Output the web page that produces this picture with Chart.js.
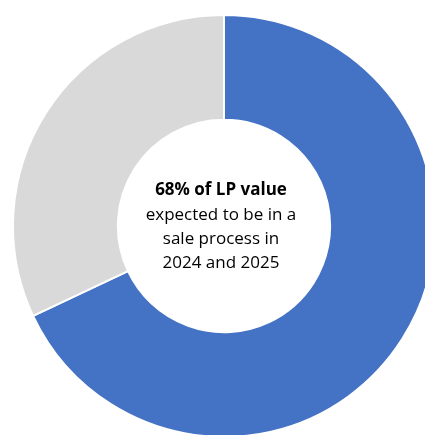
<!DOCTYPE html>
<html lang="en">
<head>
  <meta charset="UTF-8" />
  <title>LP value in sale process</title>
  <script src="https://cdn.jsdelivr.net/npm/chart.js"></script>
  <style>
    html, body { margin: 0; padding: 0; background: #fff; overflow: hidden; }
    body { width: 425px; height: 435px; position: relative; }
    #wrap { position: absolute; left: 12px; top: 14px; width: 424px; height: 424px; }
  </style>
</head>
<body>
  <div id="wrap"><canvas id="donut"></canvas></div>

  <script>
    const labels = ["Expected in a sale process 2024-2025", "Other LP value"];
    const shares = [68, 32];
    const colors = ["#4472C4", "#D9D9D9"];
    const centerLines = ["68% of LP value", "expected to be in a", "sale process in", "2024 and 2025"];

    // text in the hole
    const centerText = {
      id: "centerText",
      afterDraw(chart) {
        const meta = chart.getDatasetMeta(0).data[0];
        const ctx = chart.ctx;
        ctx.save();
        ctx.textAlign = "center";
        ctx.textBaseline = "middle";
        ctx.fillStyle = "#000";
        const lh = 24.3;
        const y0 = meta.y - lh * 1.5 + 1;
        centerLines.forEach((t, i) => {
          ctx.font = (i === 0 ? "bold " : "") + "17px 'Open Sans'";
          ctx.fillText(t, meta.x - 3, y0 + i * lh);
        });
        ctx.restore();
      }
    };

    new Chart(document.getElementById("donut"), {
      type: "doughnut",
      data: {
        labels: labels,
        datasets: [{
          data: shares,
          backgroundColor: colors,
          borderColor: "#fff",
          borderWidth: 2
        }]
      },
      options: {
        responsive: true,
        maintainAspectRatio: false,
        animation: false,
        cutout: "50.3%",
        layout: { padding: 0 },
        plugins: { legend: { display: false }, tooltip: { enabled: false } }
      },
      plugins: [centerText]
    });
  </script>
</body>
</html>
